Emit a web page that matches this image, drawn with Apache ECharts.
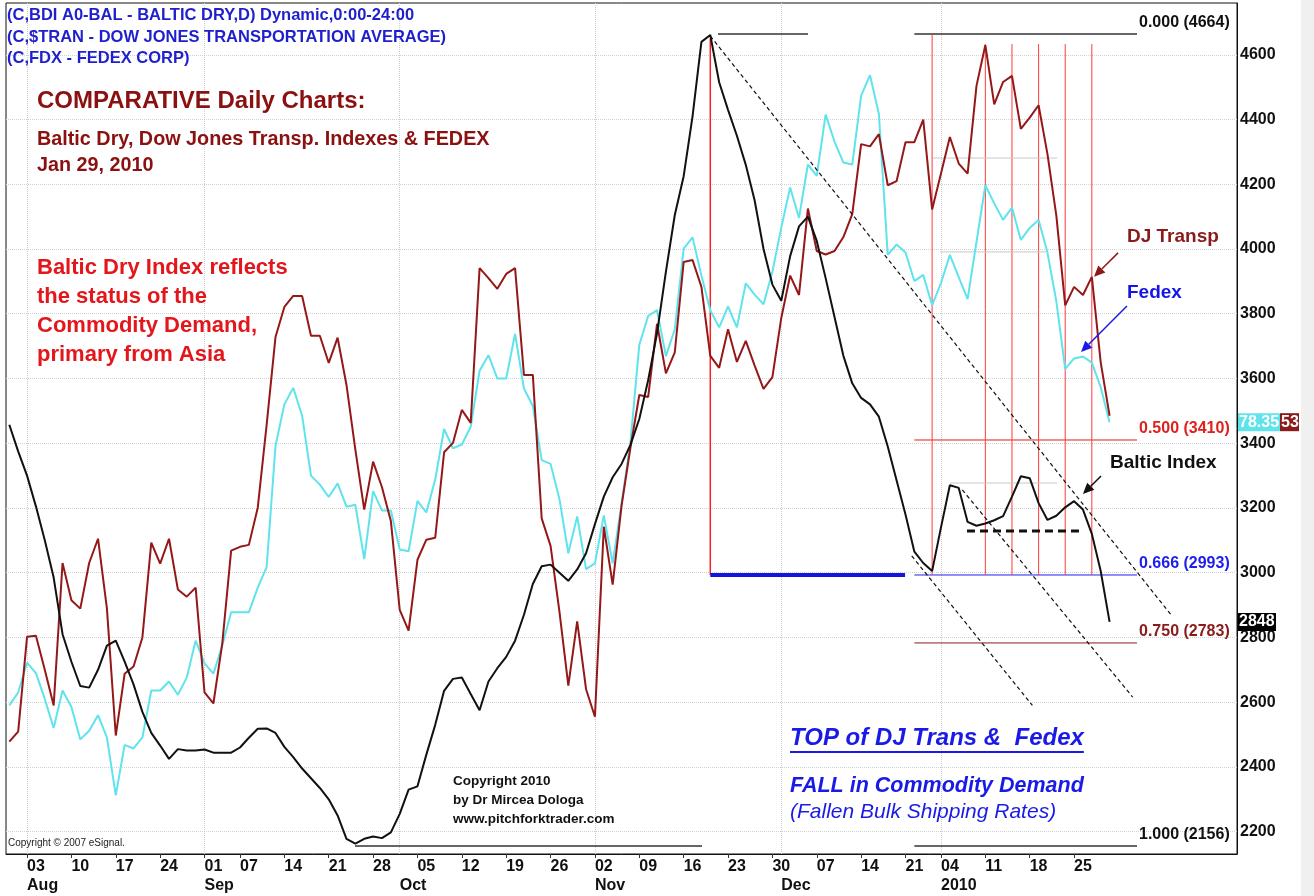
<!DOCTYPE html>
<html>
<head>
<meta charset="utf-8">
<title>Baltic Dry, DJ Transp. & FedEx</title>
<script src="https://cdn.jsdelivr.net/npm/echarts@6/dist/echarts.min.js"></script>
<style>
  html, body { margin: 0; padding: 0; background: #fff; }
  #chart { width: 1314px; height: 896px; }
</style>
</head>
<body>
<div id="chart"></div>
<script>
// one value per Baltic Exchange trading day, index 0 = 30 Jul 2009, last = 29 Jan 2010
// DJ Transp and FedEx are overlays, read in the price scale of the Baltic index
const baltic = [
  3457, 3375, 3300, 3205, 3100, 2985, 2810, 2725, 2650, 2645,
  2700, 2775, 2790, 2725, 2655, 2570, 2505, 2466, 2425, 2455,
  2451, 2451, 2454, 2444, 2444, 2444, 2460, 2490, 2518, 2519,
  2505, 2462, 2430, 2395, 2365, 2335, 2300, 2250, 2178, 2163,
  2178, 2185, 2180, 2198, 2255, 2330, 2340, 2438, 2530, 2635,
  2672, 2676, 2625, 2575, 2664, 2705, 2740, 2790, 2870, 2965,
  3020, 3025, 3000, 2975, 3010, 3060, 3150, 3235, 3295, 3336,
  3395, 3475, 3595, 3740, 3930, 4105, 4225, 4410, 4640, 4661,
  4515, 4430, 4350, 4260, 4150, 4000, 3890, 3840, 3978, 4070,
  4100, 4025, 3910, 3790, 3670, 3585, 3540, 3520, 3482, 3390,
  3285, 3180, 3065, 3030, 3005, 3140, 3270, 3262, 3157, 3145,
  3152, 3162, 3175, 3235, 3298, 3292, 3215, 3163, 3176, 3202,
  3221, 3195, 3120, 3005, 2848
];
const djTransp = [
  2478, 2509, 2802, 2805, 2700, 2590, 3030, 2915, 2889, 3030,
  3105, 2890, 2497, 2688, 2710, 2800, 3093, 3028, 3105, 2948,
  2926, 2954, 2630, 2596, 2781, 3068, 3080, 3086, 3201, 3457,
  3728, 3821, 3855, 3855, 3732, 3732, 3648, 3726, 3580, 3380,
  3195, 3343, 3264, 3160, 2885, 2821, 3040, 3102, 3108, 3372,
  3401, 3503, 3463, 3941, 3910, 3877, 3923, 3941, 3611, 3611,
  3168, 3083, 2880, 2651, 2850, 2640, 2555, 3142, 2963, 3207,
  3386, 3549, 3543, 3769, 3616, 3681, 3960, 3966, 3883, 3670,
  3633, 3752, 3651, 3716, 3640, 3568, 3604, 3787, 3918, 3858,
  4125, 3994, 3983, 3994, 4037, 4108, 4324, 4317, 4355, 4197,
  4210, 4330, 4330, 4400, 4122, 4233, 4346, 4264, 4233, 4504,
  4630, 4447, 4516, 4535, 4371, 4406, 4444, 4293, 4103, 3826,
  3883, 3858, 3914, 3650, 3485
];
const fedex = [
  2590, 2630, 2722, 2690, 2610, 2520, 2636, 2585, 2485, 2512,
  2560, 2491, 2312, 2468, 2457, 2491, 2636, 2636, 2664, 2623,
  2676, 2790, 2720, 2688, 2775, 2878, 2878, 2878, 2954, 3017,
  3392, 3520, 3571, 3485, 3300, 3272, 3234, 3276, 3204, 3210,
  3042, 3252, 3192, 3192, 3072, 3066, 3222, 3186, 3288, 3444,
  3384, 3396, 3451, 3624, 3672, 3600, 3600, 3738, 3569, 3515,
  3348, 3336, 3228, 3060, 3174, 3011, 3029, 3177, 3029, 3213,
  3402, 3704, 3793, 3811, 3669, 3752, 4001, 4036, 3918, 3811,
  3758, 3823, 3758, 3894, 3859, 3829, 3930, 4066, 4190, 4096,
  4261, 4226, 4415, 4332, 4267, 4261, 4474, 4537, 4417, 3982,
  4014, 3989, 3901, 3920, 3826, 3895, 3982, 3913, 3845, 4022,
  4197, 4141, 4090, 4128, 4028, 4065, 4090, 3989, 3838, 3630,
  3662, 3668, 3649, 3573, 3465
];

// x axis: trading-day index of each weekly label, and month starts
const weekTicks = [2, 7, 12, 17, 22, 26, 31, 36, 41, 46, 51, 56, 61, 66, 71, 76, 81, 86, 91, 96, 101, 105, 110, 115, 120];
const dayLabels = ['03', '10', '17', '24', '01', '07', '14', '21', '28', '05', '12', '19', '26', '02', '09', '16', '23', '30', '07', '14', '21', '04', '11', '18', '25'];
const monthTicks = [2, 22, 44, 66, 87, 105];
const monthLabels = ['Aug', 'Sep', 'Oct', 'Nov', 'Dec', '2010'];
const yTicks = [2200, 2400, 2600, 2800, 3000, 3200, 3400, 3600, 3800, 4000, 4200, 4400, 4600];

// fibonacci retracement of the Nov 19 top
const fibRatios = ['0.000', '0.500', '0.666', '0.750', '1.000'];
const fibValues = [4664, 3410, 2993, 2783, 2156];

// last-value tags on the price scale
const fedexTag = '78.35';
const djTag = '53';

const FONT = '"Liberation Sans", Arial, Helvetica, sans-serif';

const chart = echarts.init(document.getElementById('chart'));

function pairs(arr) {
  return arr.map((v, i) => [i, v]);
}

function lineSeries(name, data, color) {
  return {
    name: name,
    type: 'line',
    data: pairs(data),
    symbol: 'none',
    clip: false,
    lineStyle: { color: color, width: 2 },
    emphasis: { disabled: true }
  };
}

const option = {
  animation: false,
  backgroundColor: '#ffffff',
  grid: {
    left: 6, right: 77, top: 3, bottom: 42,
    show: true, borderColor: '#111', borderWidth: 1
  },
  xAxis: [
    {
      type: 'value', min: -0.372, max: 138.36, position: 'bottom',
      axisLine: { show: true, onZero: false, lineStyle: { color: '#111', width: 1 } },
      axisTick: { show: true, customValues: weekTicks, length: 4, lineStyle: { color: '#333' } },
      axisLabel: {
        customValues: weekTicks,
        formatter: v => dayLabels[weekTicks.indexOf(v)],
        align: 'left', margin: 5,
        color: '#111', fontSize: 16, fontWeight: 'bold', fontFamily: FONT
      },
      splitLine: { show: false }
    },
    {
      type: 'value', min: -0.372, max: 138.36, position: 'bottom',
      axisLine: { show: false, onZero: false },
      axisTick: { show: false, customValues: monthTicks },
      axisLabel: {
        customValues: monthTicks,
        formatter: v => monthLabels[monthTicks.indexOf(v)],
        align: 'left', margin: 24,
        color: '#111', fontSize: 16, fontWeight: 'bold', fontFamily: FONT
      },
      splitLine: { show: true, lineStyle: { type: 'dotted', color: '#cccccc', width: 1 } }
    }
  ],
  yAxis: {
    type: 'value', min: 2131, max: 4760, position: 'right',
    axisLine: { show: true, onZero: false, lineStyle: { color: '#111', width: 1 } },
    axisTick: { show: false, customValues: yTicks },
    axisLabel: {
      customValues: yTicks, margin: 3,
      formatter: v => String(v),
      color: '#111', fontSize: 16, fontWeight: 'bold', fontFamily: FONT
    },
    splitLine: { show: true, lineStyle: { type: 'dotted', color: '#d2d2d2', width: 1 } }
  },
  series: [
    lineSeries('FedEx', fedex, '#5fe3ec'),
    lineSeries('DJ Transp', djTransp, '#951818'),
    lineSeries('Baltic Dry', baltic, '#111111')
  ]
};

chart.setOption(option);

// ---- annotations, placed through the chart's own scales ----
const ref0 = chart.convertToPixel({ xAxisIndex: 0, yAxisIndex: 0 }, [0, 3000]);
const ref1 = chart.convertToPixel({ xAxisIndex: 0, yAxisIndex: 0 }, [100, 4000]);
function px(i, v) {
  return [
    ref0[0] + (ref1[0] - ref0[0]) * i / 100,
    ref0[1] + (ref1[1] - ref0[1]) * (v - 3000) / 1000
  ];
}

const g = [];

function seg(i1, v1, i2, v2, stroke, width, dash, z) {
  const p = px(i1, v1), q = px(i2, v2);
  g.push({
    type: 'line', silent: true, z: z || 1,
    shape: { x1: p[0], y1: p[1], x2: q[0], y2: q[1] },
    style: { stroke: stroke, lineWidth: width, lineDash: dash || null }
  });
}

function arrow(i1, v1, i2, v2, color) {
  const p = px(i1, v1), q = px(i2, v2);
  const a = Math.atan2(q[1] - p[1], q[0] - p[0]);
  const L = 11, W = 5;
  const bx = q[0] - L * Math.cos(a), by = q[1] - L * Math.sin(a);
  g.push({
    type: 'line', silent: true, z: 20,
    shape: { x1: p[0], y1: p[1], x2: bx, y2: by },
    style: { stroke: color, lineWidth: 1.5 }
  });
  g.push({
    type: 'polygon', silent: true, z: 20,
    shape: { points: [q, [bx + W * Math.sin(a), by - W * Math.cos(a)], [bx - W * Math.sin(a), by + W * Math.cos(a)]] },
    style: { fill: color }
  });
}

function label(x, y, text, font, color) {
  g.push({
    type: 'text', silent: true, z: 30, x: x, y: y,
    style: {
      text: text, font: font, fill: color,
      align: 'left', verticalAlign: 'middle',
      textAlign: 'left', textVerticalAlign: 'middle'
    }
  });
}

const measure = document.createElement('canvas').getContext('2d');
function textWidth(text, font) {
  measure.font = font;
  return measure.measureText(text).width;
}

// fib retracement lines
const fibStart = 102, fibEnd = 127.09;
const fibColors = ['#333333', '#e0201c', '#2020ee', '#8b1a1a', '#333333'];
const fibWidths = [1.5, 1, 1, 1, 1.5];
fibValues.forEach((v, k) => {
  seg(fibStart, v, fibEnd, v, fibColors[k], fibWidths[k]);
  const p = px(fibEnd, v);
  label(p[0] + 2, p[1] - 11, fibRatios[k] + ' (' + v + ')', 'bold 16px ' + FONT, fibColors[k] === '#333333' ? '#111' : fibColors[k]);
});
seg(79.87, fibValues[0], 90.01, fibValues[0], '#333333', 1.5);
seg(38.96, fibValues[4], 78.07, fibValues[4], '#333333', 1.5);

// top marker and the projected support
seg(79, 4650, 79, fibValues[2], '#ff2020', 1.5);
seg(79, fibValues[2], 100.95, fibValues[2], '#1414e0', 4);

// daily verticals in January
seg(104, 4664, 104, fibValues[2], '#ff3a3a', 1);
[110, 113, 116, 119, 122].forEach(i => seg(i, 4633, i, fibValues[2], '#ff3a3a', 1));

// faint reference levels
seg(104.1, 4281, 118.1, 4281, '#c8c8c8', 1);
seg(104.9, 3991, 116.9, 3991, '#c8c8c8', 1);
seg(106, 3277, 118.1, 3277, '#c8c8c8', 1);

// downtrend channel (dashed)
seg(79, 4658, 131.04, 2866, '#111', 1.2, [4, 3], 5);
seg(101.7, 3052, 115.3, 2590, '#111', 1.2, [4, 3], 5);
seg(107.4, 3256, 126.6, 2616, '#111', 1.2, [4, 3], 5);
seg(107.93, 3129, 120.9, 3129, '#111', 3, [8, 5], 5);

// arrows to the series
arrow(124.95, 3988, 122.25, 3914, '#8b1a1a');
arrow(125.96, 3824, 120.78, 3682, '#1a1ae6');
arrow(123.04, 3299, 121.0, 3243, '#111');

// legend lines
const blue = '#1f1fcc';
label(7, 15, '(C,BDI A0-BAL - BALTIC DRY,D) Dynamic,0:00-24:00', 'bold 16.5px ' + FONT, blue);
label(7, 37, '(C,$TRAN - DOW JONES TRANSPORTATION AVERAGE)', 'bold 16.5px ' + FONT, blue);
label(7, 58, '(C,FDX - FEDEX CORP)', 'bold 16.5px ' + FONT, blue);

// headings
const darkRed = '#8b1010';
label(37, 101, 'COMPARATIVE Daily Charts:', 'bold 24px ' + FONT, darkRed);
label(37, 140, 'Baltic Dry, Dow Jones Transp. Indexes & FEDEX', 'bold 19.8px ' + FONT, darkRed);
label(37, 166, 'Jan 29, 2010', 'bold 19.8px ' + FONT, darkRed);

const red = '#e3161c';
['Baltic Dry Index reflects', 'the status of the', 'Commodity Demand,', 'primary from Asia']
  .forEach((t, k) => label(37, 268 + k * 29, t, 'bold 22px ' + FONT, red));

// series labels
label(1127, 237, 'DJ Transp', 'bold 19px ' + FONT, '#8b1a1a');
label(1127, 293, 'Fedex', 'bold 19px ' + FONT, '#1515e6');
label(1110, 463, 'Baltic Index', 'bold 19px ' + FONT, '#111');

// conclusions
const topText = 'TOP of DJ Trans &  Fedex';
const topFont = 'italic bold 24px ' + FONT;
label(790, 738, topText, topFont, '#1a1ae6');
g.push({
  type: 'line', silent: true, z: 30,
  shape: { x1: 790, y1: 752, x2: 790 + textWidth(topText, topFont), y2: 752 },
  style: { stroke: '#1a1ae6', lineWidth: 2 }
});
label(790, 786, 'FALL in Commodity Demand', 'italic bold 21.5px ' + FONT, '#1a1ae6');
label(790, 812, '(Fallen Bulk Shipping Rates)', 'italic 21px ' + FONT, '#1a1ae6');

// credits
label(453, 781, 'Copyright 2010', 'bold 13.5px ' + FONT, '#111');
label(453, 800, 'by Dr Mircea Dologa', 'bold 13.5px ' + FONT, '#111');
label(453, 819, 'www.pitchforktrader.com', 'bold 13.5px ' + FONT, '#111');
label(8, 843, 'Copyright \u00a9 2007 eSignal.', '10px ' + FONT, '#222');

// last-value tags on the price scale
function tag(x, yc, w, text, bg) {
  g.push({
    type: 'rect', silent: true, z: 25,
    shape: { x: x, y: yc - 9, width: w, height: 18 },
    style: { fill: bg }
  });
  g.push({
    type: 'text', silent: true, z: 26, x: x + 1, y: yc,
    style: {
      text: text, font: 'bold 16px ' + FONT, fill: '#ffffff',
      align: 'left', verticalAlign: 'middle', textAlign: 'left', textVerticalAlign: 'middle'
    }
  });
}
const axisX = px(138.36, 3000)[0];
const fedexY = px(0, fedex[fedex.length - 1])[1];
tag(axisX + 1, fedexY, 42, fedexTag, '#5fe3ec');
tag(axisX + 43, fedexY, 19, djTag, '#8b1a1a');
tag(axisX + 1, px(0, baltic[baltic.length - 1])[1], 38, String(baltic[baltic.length - 1]), '#000000');

// window edge at the far right
g.push({
  type: 'rect', silent: true, z: 0,
  shape: { x: 1301, y: 0, width: 13, height: 896 },
  style: { fill: '#f0f0f0' }
});

chart.setOption({ graphic: g });
</script>
</body>
</html>
